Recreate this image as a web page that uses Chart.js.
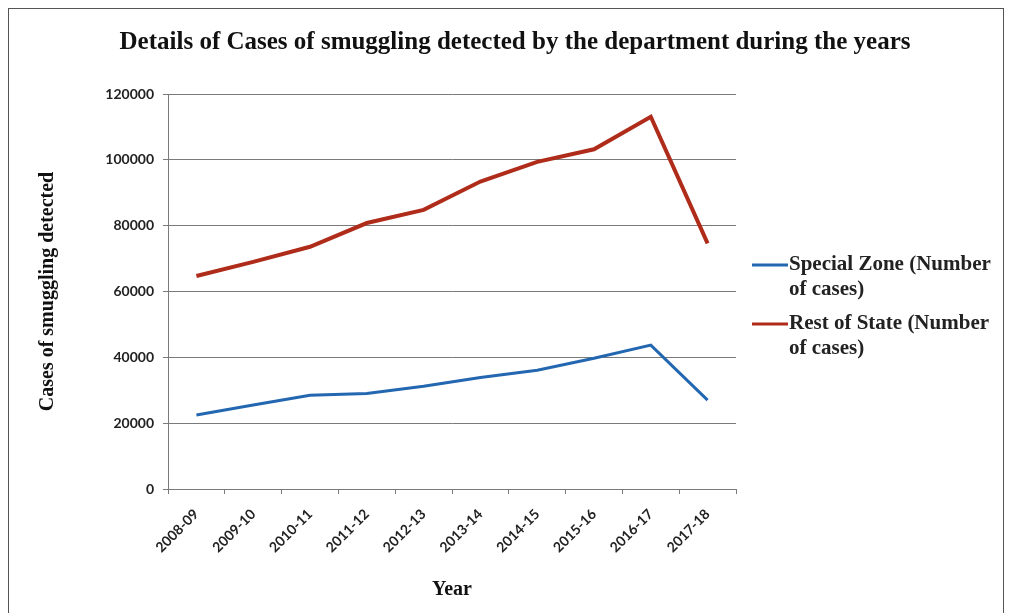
<!DOCTYPE html>
<html>
<head>
<meta charset="utf-8">
<script src="https://cdn.jsdelivr.net/npm/chart.js@4.4.1/dist/chart.umd.min.js"></script>
<style>
    html, body { margin: 0; padding: 0; background: #fff; }
    #marco { position: absolute; left: 8px; top: 8px; width: 996px; height: 640px; border: 1px solid #555; box-sizing: border-box; }
    #lienzo { position: absolute; left: 0; top: 0; }
</style>
</head>
<body>
<div id="marco"></div>
<canvas id="lienzo" width="1010" height="613"></canvas>
<script>
const anios = ['2008-09', '2009-10', '2010-11', '2011-12', '2012-13', '2013-14', '2014-15', '2015-16', '2016-17', '2017-18'];
const zonaEspecial = [22500, 25500, 28500, 29000, 31200, 33900, 36100, 39700, 43700, 27000];
const restoEstado = [64700, 69000, 73600, 80800, 84800, 93400, 99400, 103200, 113100, 74600];
const marcasY = [0, 20000, 40000, 60000, 80000, 100000, 120000];

const nombresSeries = [
    ['Special Zone (Number', 'of cases)'],
    ['Rest of State (Number', 'of cases)']
];
const coloresSeries = ['#2367b1', '#b02c1a'];
const fuenteSerif = "'Liberation Serif', 'DejaVu Serif', serif";
const fuenteSans = "Lato, 'Open Sans', sans-serif";

// leyenda a la derecha, con el texto partido en dos lineas como en el original
const leyendaDerecha = {
    id: 'leyendaDerecha',
    afterDraw(chart) {
        const ctx = chart.ctx;
        ctx.save();
        ctx.font = 'bold 21px ' + fuenteSerif;
        ctx.fillStyle = '#222';
        ctx.textBaseline = 'middle';
        let y = 265;
        nombresSeries.forEach((lineas, i) => {
            ctx.strokeStyle = coloresSeries[i];
            ctx.lineWidth = 3;
            ctx.beginPath();
            ctx.moveTo(752, y);
            ctx.lineTo(788, y);
            ctx.stroke();
            lineas.forEach((texto, j) => {
                ctx.fillText(texto, 789, y + j * 25);
            });
            y += 59;
        });
        ctx.restore();
    }
};

const ctx = document.getElementById('lienzo').getContext('2d');

new Chart(ctx, {
    type: 'line',
    data: {
        labels: anios,
        datasets: [
            {
                label: nombresSeries[0].join(' '),
                data: zonaEspecial,
                borderColor: coloresSeries[0],
                borderWidth: 3,
                pointRadius: 0,
                tension: 0
            },
            {
                label: nombresSeries[1].join(' '),
                data: restoEstado,
                borderColor: coloresSeries[1],
                borderWidth: 4,
                pointRadius: 0,
                tension: 0
            }
        ]
    },
    options: {
        responsive: false,
        animation: false,
        layout: {
            padding: { left: 20, right: 0, top: 10, bottom: 0 }
        },
        plugins: {
            legend: { display: false },
            tooltip: { enabled: false },
            title: {
                display: true,
                text: 'Details of Cases of smuggling detected by the department during the years',
                color: '#111',
                font: { family: fuenteSerif, size: 25, weight: 'bold' },
                padding: { top: 18, bottom: 36 }
            }
        },
        scales: {
            y: {
                min: 0,
                max: 120000,
                afterBuildTicks: (eje) => {
                    eje.ticks = marcasY.map(v => ({ value: v }));
                },
                afterFit: (eje) => { eje.width = 148; },
                ticks: {
                    color: '#222',
                    font: { family: fuenteSans, size: 14, weight: 'bold' },
                    padding: 9,
                    callback: (v) => String(v)
                },
                grid: {
                    color: '#7a7a7a',
                    lineWidth: 1,
                    tickLength: 5
                },
                border: { color: '#7a7a7a' },
                title: {
                    display: true,
                    text: 'Cases of smuggling detected',
                    color: '#111',
                    font: { family: fuenteSerif, size: 20, weight: 'bold' },
                    padding: { top: 16, bottom: 0 }
                }
            },
            // eje vacio a la derecha: deja el hueco de la leyenda sin descentrar el titulo
            hueco: {
                position: 'right',
                display: true,
                afterFit: (eje) => { eje.width = 274; },
                ticks: { display: false },
                grid: { display: false },
                border: { display: false }
            },
            x: {
                offset: true,
                afterFit: (eje) => { eje.height = 124; },
                ticks: {
                    color: '#222',
                    font: { family: fuenteSans, size: 14, weight: 'bold' },
                    minRotation: 45,
                    maxRotation: 45,
                    padding: 12
                },
                grid: {
                    drawOnChartArea: false,
                    offset: true,
                    color: '#7a7a7a',
                    tickLength: 5
                },
                border: { color: '#7a7a7a' },
                title: {
                    display: true,
                    text: 'Year',
                    color: '#111',
                    font: { family: fuenteSerif, size: 20, weight: 'bold' },
                    padding: { top: 0, bottom: 11 }
                }
            }
        }
    },
    plugins: [leyendaDerecha]
});
</script>
</body>
</html>
